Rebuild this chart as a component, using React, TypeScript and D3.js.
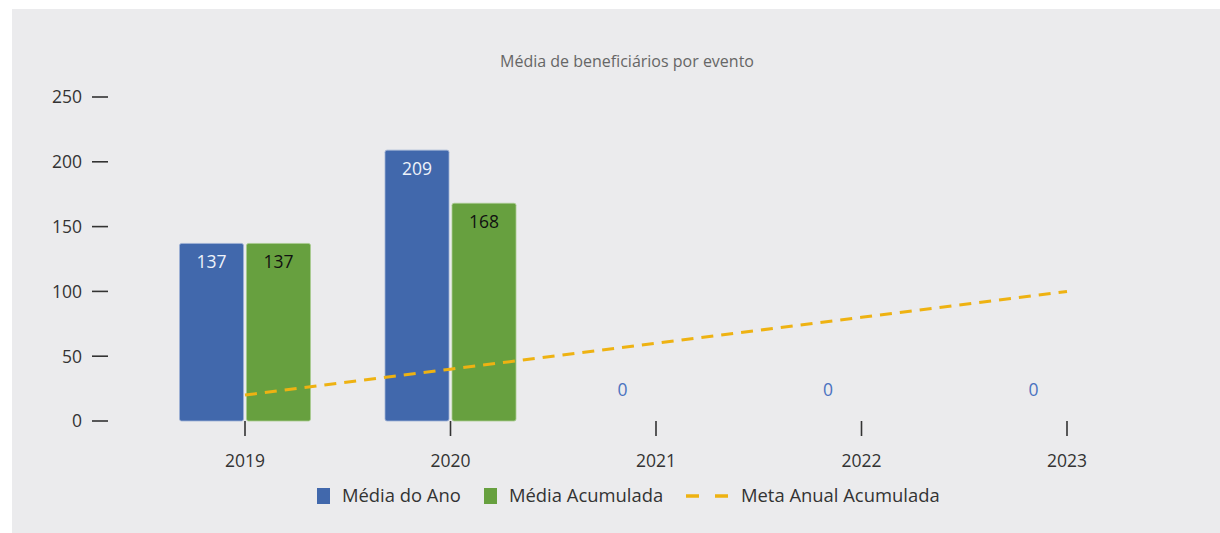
import React from 'react';
import * as d3 from 'd3';

const years = ['2019', '2020', '2021', '2022', '2023'];
const mediaAno = [137, 209, 0, 0, 0];
const mediaAcumulada: (number | null)[] = [137, 168, null, null, null];
const metaAnual = [20, 40, 60, 80, 100];
const yTicks = [0, 50, 100, 150, 200, 250];

const W = 1220;
const H = 533;
const FONT = '"Open Sans", "Noto Sans", sans-serif';
const BLUE = '#4168ac';
const GREEN = '#67a03f';
const GOLD = '#eeb212';
const NUM = 17.5;

const App = () => {
  const y = d3.scaleLinear().domain([0, 250]).range([421, 97]);
  const x = d3.scalePoint<string>().domain(years).range([245, 1067]);
  const barW = 64;
  const gap = 3;

  const line = d3
    .line<number>()
    .x((_, i) => x(years[i]) as number)
    .y((d) => y(d));

  return (
    <svg
      width={W}
      height={H}
      style={{ position: 'absolute', left: 0, top: 0, fontFamily: FONT }}
    >
      <rect x={0} y={0} width={W} height={H} fill="#fff" />
      <rect x={12} y={9} width={W - 12} height={H - 9} fill="#ebebed" />

      <text x={627} y={67} textAnchor="middle" fontSize={16} fill="#666">
        Média de beneficiários por evento
      </text>

      {/* y axis */}
      {yTicks.map((t) => (
        <g key={t} transform={`translate(0,${y(t)})`}>
          <text x={82} dy="0.36em" textAnchor="end" fontSize={NUM} fill="#333">
            {t}
          </text>
          <line x1={92} x2={108} stroke="#333" strokeWidth={1.6} />
        </g>
      ))}

      {/* x ticks */}
      {years.map((yr) => (
        <g key={yr} transform={`translate(${x(yr)},0)`}>
          <line y1={421} y2={436} stroke="#333" strokeWidth={1.6} />
          <text y={467} textAnchor="middle" fontSize={NUM} fill="#333">
            {yr}
          </text>
        </g>
      ))}

      {/* bars */}
      {years.map((yr, i) => {
        const cx = x(yr) as number;
        const v1 = mediaAno[i];
        const v2 = mediaAcumulada[i];
        return (
          <g key={yr}>
            {v1 > 0 ? (
              <>
                <rect
                  x={cx - gap / 2 - barW}
                  y={y(v1)}
                  width={barW}
                  height={y(0) - y(v1)}
                  rx={2}
                  fill={BLUE}
                  stroke="#9fb3d6"
                  strokeWidth={0.8}
                />
                <text
                  x={cx - gap / 2 - barW / 2}
                  y={y(v1) + 25}
                  textAnchor="middle"
                  fontSize={NUM}
                  fill="#eef2fa"
                >
                  {v1}
                </text>
              </>
            ) : (
              <text
                x={cx - gap / 2 - barW / 2}
                y={y(0) - 25}
                textAnchor="middle"
                fontSize={NUM}
                fill="#4a72c0"
              >
                {v1}
              </text>
            )}
            {v2 != null && (
              <>
                <rect
                  x={cx + gap / 2}
                  y={y(v2)}
                  width={barW}
                  height={y(0) - y(v2)}
                  rx={2}
                  fill={GREEN}
                  stroke="#a9cc90"
                  strokeWidth={0.8}
                />
                <text
                  x={cx + gap / 2 + barW / 2}
                  y={y(v2) + 25}
                  textAnchor="middle"
                  fontSize={NUM}
                  fill="#111"
                >
                  {v2}
                </text>
              </>
            )}
          </g>
        );
      })}

      {/* meta line */}
      <path
        d={line(metaAnual) ?? ''}
        fill="none"
        stroke={GOLD}
        strokeWidth={3}
        strokeDasharray="12 8"
      />

      {/* legend */}
      <g fontSize={18.4} fill="#333">
        <rect x={317} y={488} width={13} height={16} fill={BLUE} />
        <text x={342} y={502}>Média do Ano</text>
        <rect x={484} y={488} width={13} height={16} fill={GREEN} />
        <text x={509} y={502}>Média Acumulada</text>
        <line x1={686} x2={728} y1={496} y2={496} stroke={GOLD} strokeWidth={3.5} strokeDasharray="13 16" />
        <text x={741} y={502}>Meta Anual Acumulada</text>
      </g>
    </svg>
  );
};

export default App;
